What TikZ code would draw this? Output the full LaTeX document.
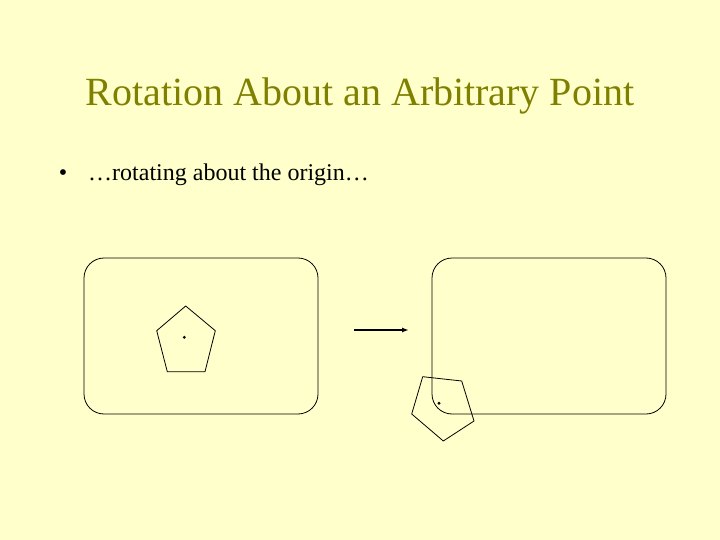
\documentclass[tikz,border=0pt]{standalone}
\usepackage{fontspec}
\setmainfont{Liberation Serif}
\usetikzlibrary{arrows.meta}
\definecolor{slidebg}{HTML}{FFFFCC}
\definecolor{titleolive}{HTML}{808000}
\tikzset{
  screen/.style={draw, line width=0.8pt, rounded corners=20pt},
  pentline/.style={draw, line width=0.8pt, line join=round}
}
\begin{document}
\begin{tikzpicture}[x=1pt,y=-1pt]
  \fill[slidebg] (0,0) rectangle (720,540);
  \useasboundingbox (0,0) rectangle (720,540);

  \node (title) at (360,106) [anchor=base, inner sep=0, text=titleolive]
    {\fontsize{40}{44}\selectfont Rotation About an Arbitrary Point};
  \node (bullet) at (63,181) [anchor=base, inner sep=0]
    {\fontsize{24}{28}\selectfont •};
  \node (point) at (88,181) [anchor=base west, inner sep=0]
    {\fontsize{24}{28}\selectfont …rotating about the origin…};

  % before: shape inside the window
  \draw[screen] (84,258) rectangle (318,414);
  \draw[pentline] (185.7,306) -- (215.3,330.7) -- (205,371.7)
    -- (167.3,371.7) -- (156.7,330.7) -- cycle;
  \fill (184.3,337.3) circle (1.6);

  \coordinate (arrstart) at (354,330);
  \coordinate (arrend) at (409,330);
  \draw[line width=1.4pt, -{Latex[length=7pt, width=5pt]}] (arrstart) -- (arrend);

  % after: rotated about the origin
  \draw[screen] (432,258) rectangle (666,414);
  \draw[pentline] (422.7,376.7) -- (461.7,381) -- (474,421)
    -- (443.3,441) -- (411.7,414) -- cycle;
  \fill (439,403.3) circle (1.6);
\end{tikzpicture}
\end{document}
